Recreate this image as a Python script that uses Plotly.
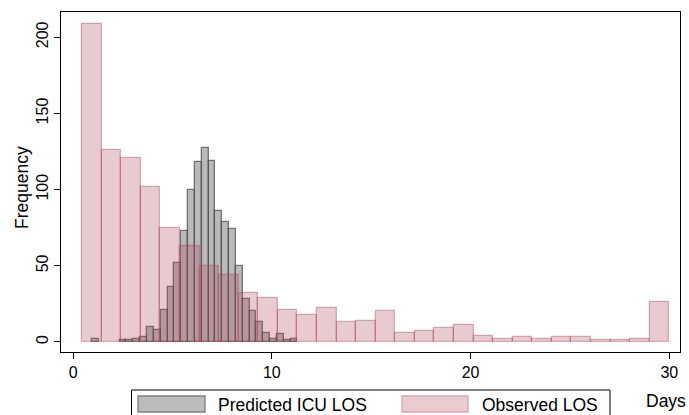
import plotly.graph_objects as go

# ---- data ----
obs_bin_start = 0.45
obs_bin_width = 0.985
obs_counts = [209, 126, 121, 102, 75, 63, 50, 44, 32, 29, 21, 18, 22, 13, 14,
              20, 6, 7, 9, 11, 4, 2, 3, 2, 3, 3, 1, 1, 2, 26]

pred_bin_start = 0.963
pred_bin_width = 0.3442
pred_counts = [2, 0, 0, 0, 1, 1, 2, 3, 10, 8, 21, 36, 52, 73, 100, 118, 127, 119,
               86, 79, 74, 50, 28, 20, 13, 6, 2, 5, 1, 2]

x_ticks = [0, 10, 20, 30]
y_ticks = [0, 50, 100, 150, 200]
legend_labels = ["Predicted ICU LOS", "Observed LOS"]
x_title = "Days"
y_title = "Frequency"

# ---- styling ----
W, H = 689, 415
ML, MR, MT, MB = 61, 9, 12, 63
PW, PH = W - ML - MR, H - MT - MB
FONT = "Liberation Sans, Arial, sans-serif"

grey_fill = "rgba(128,128,128,0.55)"
grey_line = "rgba(70,70,70,0.7)"
pink_fill = "rgba(170,70,88,0.28)"
pink_line = "rgba(170,70,88,0.4)"


def px_x(px):
    return (px - ML) / PW


def px_y(py):
    return (H - MB - py) / PH


pred_x = [pred_bin_start + pred_bin_width * (i + 0.5) for i in range(len(pred_counts))]
obs_x = [obs_bin_start + obs_bin_width * (i + 0.5) for i in range(len(obs_counts))]

fig = go.Figure()
fig.add_trace(go.Bar(
    x=pred_x, y=[c if c > 0 else None for c in pred_counts],
    width=pred_bin_width, name=legend_labels[0],
    marker=dict(color=grey_fill, line=dict(color=grey_line, width=1.3)),
    showlegend=False,
))
fig.add_trace(go.Bar(
    x=obs_x, y=[c if c > 0 else None for c in obs_counts],
    width=obs_bin_width, name=legend_labels[1],
    marker=dict(color=pink_fill, line=dict(color=pink_line, width=1.3)),
    showlegend=False,
))

shapes = []
annotations = []

# manual legend (box + swatches + labels)
shapes.append(dict(type="rect", xref="paper", yref="paper",
                   x0=px_x(131.5), x1=px_x(610), y0=px_y(425), y1=px_y(390),
                   line=dict(color="black", width=1), fillcolor="white", layer="above"))
shapes.append(dict(type="rect", xref="paper", yref="paper",
                   x0=px_x(138), x1=px_x(205), y0=px_y(412), y1=px_y(396),
                   line=dict(color="rgb(125,125,125)", width=1.3),
                   fillcolor="rgb(188,188,188)", layer="above"))
shapes.append(dict(type="rect", xref="paper", yref="paper",
                   x0=px_x(402), x1=px_x(468), y0=px_y(412), y1=px_y(396),
                   line=dict(color="rgb(214,166,174)", width=1.3),
                   fillcolor="rgb(233,203,208)", layer="above"))
annotations.append(dict(text=legend_labels[0], xref="paper", yref="paper",
                        x=px_x(216), y=px_y(405), xanchor="left", yanchor="middle",
                        showarrow=False, font=dict(family=FONT, size=17.5, color="black")))
annotations.append(dict(text=legend_labels[1], xref="paper", yref="paper",
                        x=px_x(480), y=px_y(405), xanchor="left", yanchor="middle",
                        showarrow=False, font=dict(family=FONT, size=17.5, color="black")))
annotations.append(dict(text=x_title, xref="paper", yref="paper",
                        x=px_x(688), y=px_y(401), xanchor="right", yanchor="middle",
                        showarrow=False, font=dict(family=FONT, size=17.5, color="black")))
annotations.append(dict(text=y_title, xref="paper", yref="paper",
                        x=px_x(22), y=px_y(187), xanchor="center", yanchor="middle",
                        textangle=-90, showarrow=False,
                        font=dict(family=FONT, size=17.5, color="black")))

fig.update_layout(
    width=W, height=H,
    margin=dict(l=ML, r=MR, t=MT, b=MB, pad=0),
    paper_bgcolor="white", plot_bgcolor="white",
    barmode="overlay", bargap=0,
    font=dict(family=FONT, size=16, color="black"),
    shapes=shapes, annotations=annotations,
    showlegend=False,
)
fig.update_xaxes(
    range=[-0.61, 30.54], tickmode="array", tickvals=x_ticks,
    ticks="outside", ticklen=6, tickwidth=1, tickcolor="black",
    showline=True, linecolor="black", linewidth=1, mirror=True,
    showgrid=False, zeroline=False, tickfont=dict(size=16),
)
fig.update_yaxes(
    range=[-6.6, 216.6], tickmode="array", tickvals=y_ticks,
    ticks="outside", ticklen=6, tickwidth=1, tickcolor="black",
    showline=True, linecolor="black", linewidth=1, mirror=True,
    showgrid=False, zeroline=False, tickangle=-90, tickfont=dict(size=16),
)

fig.write_html("out.html")
